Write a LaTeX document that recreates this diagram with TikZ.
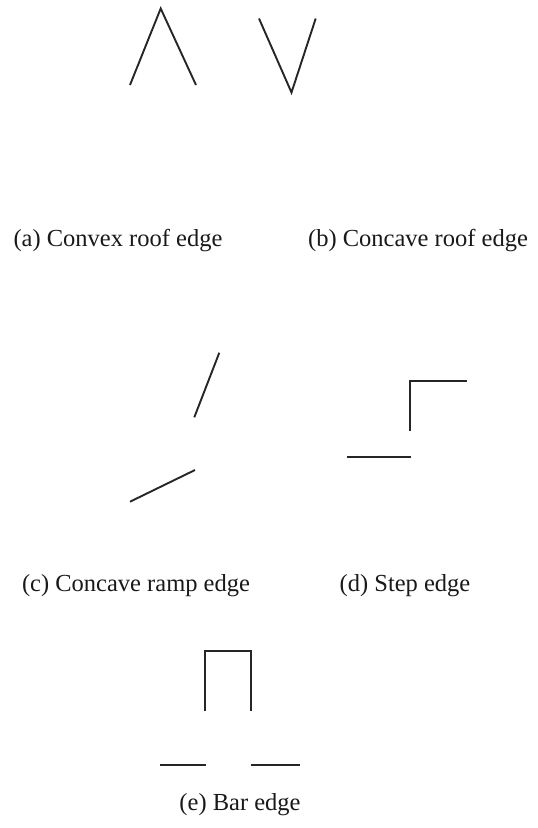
\documentclass[tikz,border=0pt]{standalone}
\usepackage{fontspec}
\setmainfont{Liberation Serif}
\begin{document}
\begin{tikzpicture}[
  x=1pt, y=-1pt,
  edgeline/.style={draw=black!85, line width=1.9pt},
  caption/.style={font=\fontsize{24.5}{28}\selectfont, text=black!90, inner sep=0pt},
]
\useasboundingbox (0,0) rectangle (538,828);

% ============================================================
% (a) CONVEX ROOF
% ============================================================
\draw[edgeline] (130,85) -- (160.7,8.5) -- (196,85);
\node[caption] (capa) at (118,241) {(a) Convex roof edge};

% ============================================================
% (b) CONCAVE ROOF
% ============================================================
\draw[edgeline] (259,18.5) -- (291.5,92.5) -- (315.7,18.5);
\node[caption] (capb) at (418,241) {(b) Concave roof edge};

% ============================================================
% (c) CONCAVE RAMP
% ============================================================
\draw[edgeline] (219.3,352.7) -- (194.3,417.3);
\draw[edgeline] (195,470) -- (130,501.7);
\node[caption] (capc) at (136,586) {(c) Concave ramp edge};

% ============================================================
% (d) STEP
% ============================================================
\draw[edgeline] (410,431) -- (410,380.7) -- (467.3,380.7);
\draw[edgeline] (347.3,456.7) -- (411,456.7);
\node[caption] (capd) at (405,586) {(d) Step edge};

% ============================================================
% (e) BAR
% ============================================================
\draw[edgeline] (205,711) -- (205,650.7) -- (251.3,650.7) -- (251.3,711);
\draw[edgeline] (160,765) -- (205.7,765);
\draw[edgeline] (250.7,765) -- (300.3,765);
\node[caption] (cape) at (240,805) {(e) Bar edge};

\end{tikzpicture}
\end{document}
